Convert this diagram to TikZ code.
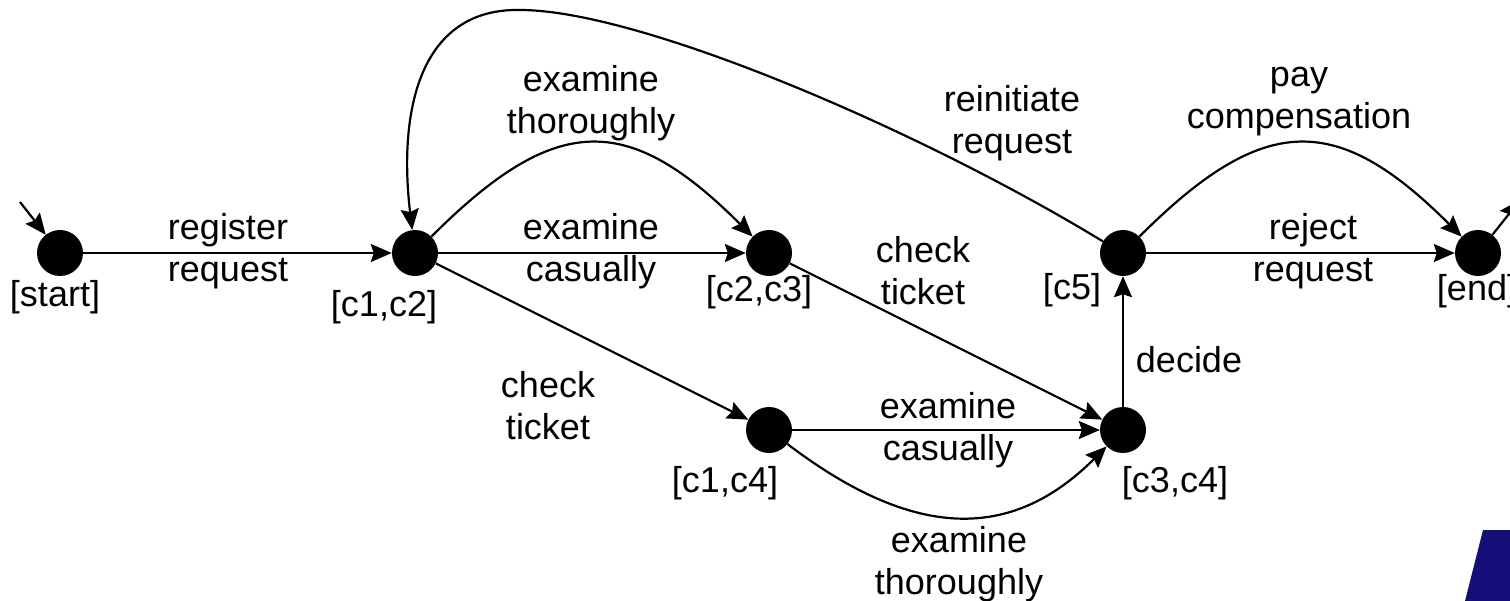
\documentclass[tikz,border=0pt]{standalone}
\usepackage{fontspec}
\setmainfont{Liberation Sans}
\usetikzlibrary{arrows.meta}
\definecolor{navyblock}{RGB}{20,15,120}
\begin{document}
\begin{tikzpicture}[x=1pt,y=1pt,
  state/.style={circle,fill=black,minimum size=46pt,inner sep=0pt},
  edge/.style={line width=2.2pt,-{Stealth[length=21pt,width=18pt,inset=3pt]}},
  lbl/.style={font=\fontsize{36}{42}\selectfont,align=center,inner sep=0pt,anchor=base},
]
\useasboundingbox (0,0) rectangle (1510,-601);

% corner decoration
\fill[navyblock] (1483,-530) -- (1510,-530) -- (1510,-601) -- (1465,-601) -- cycle;

% states
\node[state] (start) at (60,-253) {};
\node[state] (c12)   at (415,-253) {};
\node[state] (c23)   at (769,-253) {};
\node[state] (c14)   at (769,-430) {};
\node[state] (c34)   at (1123,-430) {};
\node[state] (c5)    at (1123,-253) {};
\node[state] (end)   at (1478,-253) {};
\coordinate (in)  at (20,-202);
\coordinate (out) at (1520,-200);

% state names
\node[lbl] (nstart) at (55,-307)  {[start]};
\node[lbl] (nc12)   at (384,-317) {[c1,c2]};
\node[lbl] (nc23)   at (759,-302) {[c2,c3]};
\node[lbl] (nc14)   at (725,-492) {[c1,c4]};
\node[lbl] (nc34)   at (1175,-492) {[c3,c4]};
\node[lbl] (nc5)    at (1072,-300) {[c5]};
\node[lbl] (nend)   at (1477,-301) {[end]};

% transitions
\draw[edge] (in) -- (start);
\draw[edge] (start) -- (c12);
\draw[edge] (c12) -- (c23);
\draw[edge] (c12) .. controls (556,-112) and (628,-112) .. (c23);
\draw[edge] (c12) -- (c14);
\draw[edge] (c23) -- (c34);
\draw[edge] (c14) -- (c34);
\draw[edge] (c14) .. controls (915,-541) and (1012,-541) .. (c34);
\draw[edge] (c34) -- (c5);
\draw[edge] (c5.150) .. controls (920,-130) and (640,-10) .. (520,-10)
                     .. controls (420,-8) and (398,-110) .. (c12.97);
\draw[edge] (c5) -- (end);
\draw[edge] (c5) .. controls (1264,-112) and (1337,-112) .. (end);
\draw[edge] (end) -- (out);

% activity labels (base anchor sits on the last line)
\node[lbl] (lreg)  at (228,-282)  {register\\request};
\node[lbl] (lec1)  at (591,-282)  {examine\\casually};
\node[lbl] (let1)  at (591,-134)  {examine\\thoroughly};
\node[lbl] (lct1)  at (548,-439)  {check\\ticket};
\node[lbl] (lct2)  at (923,-305)  {check\\ticket};
\node[lbl] (lec2)  at (948,-460)  {examine\\casually};
\node[lbl] (let2)  at (959,-594)  {examine\\thoroughly};
\node[lbl] (lre)   at (1012,-154) {reinitiate\\request};
\node[lbl] (lpay)  at (1299,-129) {pay\\compensation};
\node[lbl] (lrej)  at (1313,-282) {reject\\request};
\node[lbl] (ldec)  at (1189,-373) {decide};
\end{tikzpicture}
\end{document}
